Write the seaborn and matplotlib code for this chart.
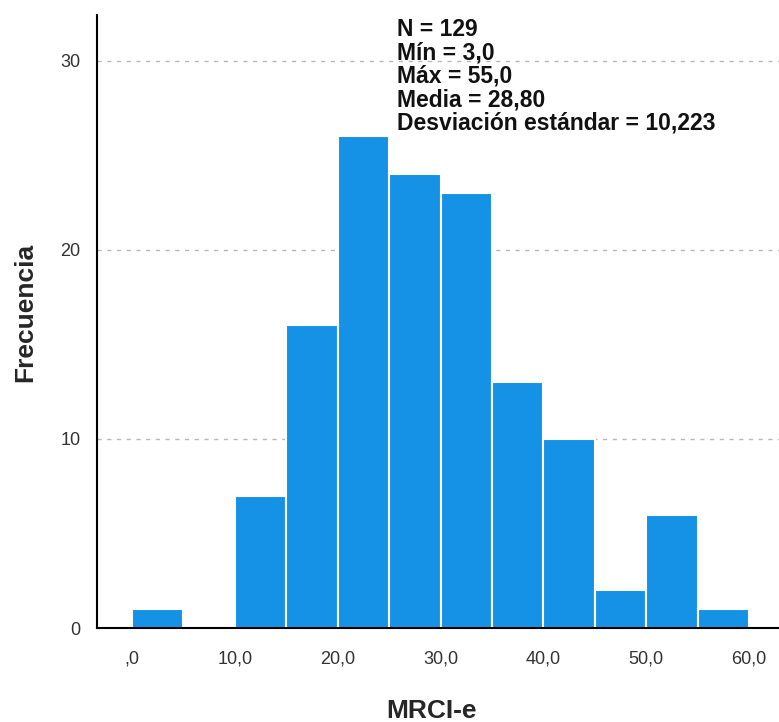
import numpy as np
import pandas as pd
import matplotlib
matplotlib.use('Agg')
import matplotlib.pyplot as plt
import seaborn as sns

bin_edges = [0, 5, 10, 15, 20, 25, 30, 35, 40, 45, 50, 55, 60]
counts = [1, 0, 7, 16, 26, 24, 23, 13, 10, 2, 6, 1]
x_ticks = [0, 10, 20, 30, 40, 50, 60]
x_tick_labels = [',0', '10,0', '20,0', '30,0', '40,0', '50,0', '60,0']
y_ticks = [0, 10, 20, 30]
stats_lines = ['N = 129', 'Mín = 3,0', 'Máx = 55,0', 'Media = 28,80',
               'Desviación estándar = 10,223']

mids = [(a + b) / 2 for a, b in zip(bin_edges[:-1], bin_edges[1:])]
df = pd.DataFrame({'MRCI-e': mids, 'n': counts})

sns.set_style('white')
plt.rcParams['font.family'] = ['Liberation Sans', 'DejaVu Sans']

fig = plt.figure(figsize=(7.79, 7.22), dpi=100)
ax = fig.add_axes([0.1245, 0.130, 0.8755, 0.849])

sns.histplot(data=df, x='MRCI-e', weights='n', bins=bin_edges, ax=ax,
             color='#1591E6', alpha=1, edgecolor='white', linewidth=1.5)

ax.set_xlim(-3.4, 62.9)
ax.set_ylim(0, 32.4)
ax.set_yticks(y_ticks)
ax.set_xticks(x_ticks)
ax.set_xticklabels(x_tick_labels)
ax.tick_params(axis='both', length=0, labelsize=13, labelcolor='#333333')
ax.tick_params(axis='x', pad=16)
ax.tick_params(axis='y', pad=12)

ax.yaxis.grid(True, linestyle=(0, (3, 4)), color='#b8b8b8', linewidth=1)
ax.set_axisbelow(True)

for s in ['top', 'right']:
    ax.spines[s].set_visible(False)
ax.spines['left'].set_color('black')
ax.spines['bottom'].set_color('black')
ax.spines['left'].set_linewidth(1.5)
ax.spines['bottom'].set_linewidth(1.5)

ax.set_xlabel('MRCI-e', fontsize=19, fontweight='bold')
ax.xaxis.set_label_coords(0.49, -0.115)
ax.set_ylabel('Frecuencia', fontsize=19, fontweight='bold')
ax.yaxis.set_label_coords(-0.087, 0.515)

ax.text(0.44, 0.995, '\n'.join(stats_lines), transform=ax.transAxes,
        ha='left', va='top', fontsize=16.5, fontweight='bold',
        linespacing=1.02, color='#111111')

fig.savefig('out.png', dpi=100)
